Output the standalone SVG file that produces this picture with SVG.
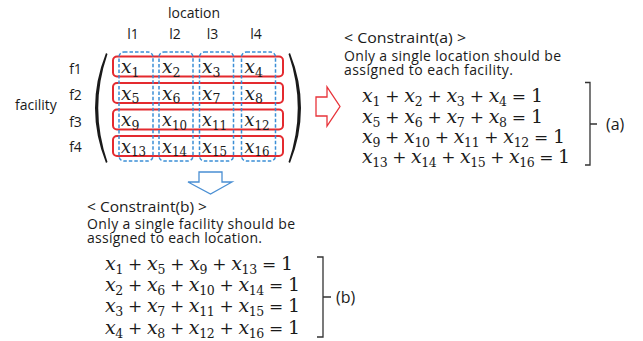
<svg xmlns="http://www.w3.org/2000/svg" width="643" height="341" viewBox="0 0 643 341">
<style>
.t{font-family:"Open Sans","Liberation Sans",sans-serif;font-size:14px;fill:#1a1a1a}
.big{font-size:16px}
.c{text-anchor:middle}
.m{font-family:"DejaVu Serif",serif;font-size:19px;fill:#1a1a1a}
.mm{font-family:"DejaVu Serif",serif;font-size:18.5px;fill:#1a1a1a}
.v{font-style:italic}
.s{font-size:12.5px}
.o{font-size:17px}
.row{fill:none;stroke:#e42a2f;stroke-width:2}
.col{fill:none;stroke:#3b8ed6;stroke-width:1.5;stroke-dasharray:3.5 2}
.br{fill:none;stroke:#333;stroke-width:1.3}
</style>
<rect width="643" height="341" fill="#fff"/>
<g id="matrix">
<text class="t c" x="194" y="18">location</text>
<text class="t c" x="133" y="38.5">l1</text>
<text class="t c" x="175" y="38.5">l2</text>
<text class="t c" x="212.5" y="38.5">l3</text>
<text class="t c" x="256" y="38.5">l4</text>
<text class="t" x="15" y="110">facility</text>
<text class="t c" x="75.5" y="73.5">f1</text>
<text class="t c" x="75.5" y="99.5">f2</text>
<text class="t c" x="75.5" y="127">f3</text>
<text class="t c" x="75.5" y="152">f4</text>
<path d="M106,53 Q84,108 106,163 L107.5,162 Q89,108 107.5,54 Z" fill="#1a1a1a"/>
<path d="M290,53 Q312,108 290,163 L288.5,162 Q307,108 288.5,54 Z" fill="#1a1a1a"/>
<rect class="row" x="113" y="56.5" width="170" height="20" rx="4"/>
<rect class="row" x="113" y="83" width="170" height="20" rx="4"/>
<rect class="row" x="113" y="109.5" width="170" height="20" rx="4"/>
<rect class="row" x="113" y="136" width="170" height="20" rx="4"/>
<rect class="col" x="119" y="52" width="34" height="109" rx="5"/>
<rect class="col" x="159" y="52" width="34" height="109" rx="5"/>
<rect class="col" x="199.5" y="52" width="34" height="109" rx="5"/>
<rect class="col" x="241.5" y="52" width="34" height="109" rx="5"/>
<g class="mm">
<text x="121" y="73"><tspan class="v">x</tspan><tspan class="s" dy="3.5">1</tspan></text>
<text x="162" y="73"><tspan class="v">x</tspan><tspan class="s" dy="3.5">2</tspan></text>
<text x="202" y="73"><tspan class="v">x</tspan><tspan class="s" dy="3.5">3</tspan></text>
<text x="244.5" y="73"><tspan class="v">x</tspan><tspan class="s" dy="3.5">4</tspan></text>
<text x="121" y="99.5"><tspan class="v">x</tspan><tspan class="s" dy="3.5">5</tspan></text>
<text x="162" y="99.5"><tspan class="v">x</tspan><tspan class="s" dy="3.5">6</tspan></text>
<text x="202" y="99.5"><tspan class="v">x</tspan><tspan class="s" dy="3.5">7</tspan></text>
<text x="244.5" y="99.5"><tspan class="v">x</tspan><tspan class="s" dy="3.5">8</tspan></text>
<text x="121" y="126"><tspan class="v">x</tspan><tspan class="s" dy="3.5">9</tspan></text>
<text x="162" y="126" textLength="25" lengthAdjust="spacingAndGlyphs"><tspan class="v">x</tspan><tspan class="s" dy="3.5">10</tspan></text>
<text x="202" y="126" textLength="25" lengthAdjust="spacingAndGlyphs"><tspan class="v">x</tspan><tspan class="s" dy="3.5">11</tspan></text>
<text x="244.5" y="126" textLength="25" lengthAdjust="spacingAndGlyphs"><tspan class="v">x</tspan><tspan class="s" dy="3.5">12</tspan></text>
<text x="121" y="152.5" textLength="25" lengthAdjust="spacingAndGlyphs"><tspan class="v">x</tspan><tspan class="s" dy="3.5">13</tspan></text>
<text x="162" y="152.5" textLength="25" lengthAdjust="spacingAndGlyphs"><tspan class="v">x</tspan><tspan class="s" dy="3.5">14</tspan></text>
<text x="202" y="152.5" textLength="25" lengthAdjust="spacingAndGlyphs"><tspan class="v">x</tspan><tspan class="s" dy="3.5">15</tspan></text>
<text x="244.5" y="152.5" textLength="25" lengthAdjust="spacingAndGlyphs"><tspan class="v">x</tspan><tspan class="s" dy="3.5">16</tspan></text>
</g>
</g>
<g id="connectors">
<path d="M316,97 H327 V87 L340,106.5 L327,126 V116 H316 Z" fill="#fff" stroke="#e8333a" stroke-width="1.3"/>
<path d="M199,172 H222 V182 H232 L210.5,194 L188,182 H199 Z" fill="#fff" stroke="#4a8fd3" stroke-width="1.3"/>
</g>
<g id="constraint-a">
<text class="t" x="344" y="43" textLength="122" lengthAdjust="spacingAndGlyphs">&lt; Constraint(a) &gt;</text>
<text class="t" x="344" y="61" textLength="217" lengthAdjust="spacing">Only a single location should be</text>
<text class="t" x="344" y="74.5" textLength="169" lengthAdjust="spacing">assigned to each facility.</text>
<text class="m" x="362" y="102" textLength="181" lengthAdjust="spacing"><tspan class="v">x</tspan><tspan class="s" dy="4">1</tspan><tspan class="o" dy="-4"> + </tspan><tspan class="v">x</tspan><tspan class="s" dy="4">2</tspan><tspan class="o" dy="-4"> + </tspan><tspan class="v">x</tspan><tspan class="s" dy="4">3</tspan><tspan class="o" dy="-4"> + </tspan><tspan class="v">x</tspan><tspan class="s" dy="4">4</tspan><tspan class="o" dy="-4"> = </tspan><tspan>1</tspan></text>
<text class="m" x="362" y="122.5" textLength="181" lengthAdjust="spacing"><tspan class="v">x</tspan><tspan class="s" dy="4">5</tspan><tspan class="o" dy="-4"> + </tspan><tspan class="v">x</tspan><tspan class="s" dy="4">6</tspan><tspan class="o" dy="-4"> + </tspan><tspan class="v">x</tspan><tspan class="s" dy="4">7</tspan><tspan class="o" dy="-4"> + </tspan><tspan class="v">x</tspan><tspan class="s" dy="4">8</tspan><tspan class="o" dy="-4"> = </tspan><tspan>1</tspan></text>
<text class="m" x="362" y="142.5" textLength="203" lengthAdjust="spacing"><tspan class="v">x</tspan><tspan class="s" dy="4">9</tspan><tspan class="o" dy="-4"> + </tspan><tspan class="v">x</tspan><tspan class="s" dy="4">10</tspan><tspan class="o" dy="-4"> + </tspan><tspan class="v">x</tspan><tspan class="s" dy="4">11</tspan><tspan class="o" dy="-4"> + </tspan><tspan class="v">x</tspan><tspan class="s" dy="4">12</tspan><tspan class="o" dy="-4"> = </tspan><tspan>1</tspan></text>
<text class="m" x="362" y="162.5" textLength="208" lengthAdjust="spacing"><tspan class="v">x</tspan><tspan class="s" dy="4">13</tspan><tspan class="o" dy="-4"> + </tspan><tspan class="v">x</tspan><tspan class="s" dy="4">14</tspan><tspan class="o" dy="-4"> + </tspan><tspan class="v">x</tspan><tspan class="s" dy="4">15</tspan><tspan class="o" dy="-4"> + </tspan><tspan class="v">x</tspan><tspan class="s" dy="4">16</tspan><tspan class="o" dy="-4"> = </tspan><tspan>1</tspan></text>
<path class="br" d="M585,82.5 H590 V165 H585 M590,124 H597"/>
<text class="t big" x="606" y="130">(a)</text>
</g>
<g id="constraint-b">
<text class="t" x="87" y="211.5" textLength="120" lengthAdjust="spacingAndGlyphs">&lt; Constraint(b) &gt;</text>
<text class="t" x="87" y="229" textLength="208" lengthAdjust="spacing">Only a single facility should be</text>
<text class="t" x="87" y="242.5" textLength="175" lengthAdjust="spacing">assigned to each location.</text>
<text class="m" x="105" y="270" textLength="188" lengthAdjust="spacing"><tspan class="v">x</tspan><tspan class="s" dy="4">1</tspan><tspan class="o" dy="-4"> + </tspan><tspan class="v">x</tspan><tspan class="s" dy="4">5</tspan><tspan class="o" dy="-4"> + </tspan><tspan class="v">x</tspan><tspan class="s" dy="4">9</tspan><tspan class="o" dy="-4"> + </tspan><tspan class="v">x</tspan><tspan class="s" dy="4">13</tspan><tspan class="o" dy="-4"> = </tspan><tspan>1</tspan></text>
<text class="m" x="105" y="291" textLength="195" lengthAdjust="spacing"><tspan class="v">x</tspan><tspan class="s" dy="4">2</tspan><tspan class="o" dy="-4"> + </tspan><tspan class="v">x</tspan><tspan class="s" dy="4">6</tspan><tspan class="o" dy="-4"> + </tspan><tspan class="v">x</tspan><tspan class="s" dy="4">10</tspan><tspan class="o" dy="-4"> + </tspan><tspan class="v">x</tspan><tspan class="s" dy="4">14</tspan><tspan class="o" dy="-4"> = </tspan><tspan>1</tspan></text>
<text class="m" x="105" y="312" textLength="195" lengthAdjust="spacing"><tspan class="v">x</tspan><tspan class="s" dy="4">3</tspan><tspan class="o" dy="-4"> + </tspan><tspan class="v">x</tspan><tspan class="s" dy="4">7</tspan><tspan class="o" dy="-4"> + </tspan><tspan class="v">x</tspan><tspan class="s" dy="4">11</tspan><tspan class="o" dy="-4"> + </tspan><tspan class="v">x</tspan><tspan class="s" dy="4">15</tspan><tspan class="o" dy="-4"> = </tspan><tspan>1</tspan></text>
<text class="m" x="105" y="333.5" textLength="195" lengthAdjust="spacing"><tspan class="v">x</tspan><tspan class="s" dy="4">4</tspan><tspan class="o" dy="-4"> + </tspan><tspan class="v">x</tspan><tspan class="s" dy="4">8</tspan><tspan class="o" dy="-4"> + </tspan><tspan class="v">x</tspan><tspan class="s" dy="4">12</tspan><tspan class="o" dy="-4"> + </tspan><tspan class="v">x</tspan><tspan class="s" dy="4">16</tspan><tspan class="o" dy="-4"> = </tspan><tspan>1</tspan></text>
<path class="br" d="M317,257 H323 V337 H317 M323,297 H331"/>
<text class="t big" x="336" y="303">(b)</text>
</g>
</svg>
